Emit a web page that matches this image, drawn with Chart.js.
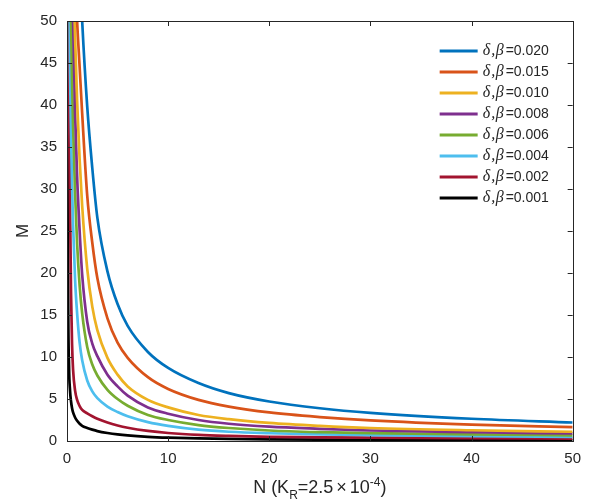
<!DOCTYPE html>
<html>
<head>
<meta charset="utf-8">
<script src="https://cdn.jsdelivr.net/npm/chart.js@4.4.0/dist/chart.umd.min.js"></script>
<style>
  html, body { margin: 0; padding: 0; background: #fff; }
</style>
</head>
<body>
<canvas id="chart" width="590" height="500"></canvas>
<script>
// N grid (x) and M values (y), one array per delta,beta
var nValues = [0.05, 0.1, 0.2, 0.3, 0.4, 0.5, 0.6, 0.8, 1, 1.25, 1.5, 2, 2.5, 3, 4, 5, 6, 8, 10, 13, 16, 20, 25, 30, 40, 50];

var m020 = [null, null, null, null, null, null, null, null, 64, 56.8, 50, 39.8, 32.5, 26.6, 20.2, 16.3, 13.7, 10.6, 8.7, 6.9, 5.7, 4.7, 3.9, 3.35, 2.65, 2.2];
var m015 = [null, null, null, null, null, null, null, 56, 50, 44.5, 39, 29.2, 23.6, 19.4, 14.6, 11.7, 9.9, 7.6, 6.2, 4.9, 4.1, 3.4, 2.85, 2.45, 1.95, 1.65];
var m010 = [null, null, null, null, null, null, 57, 48, 40.5, 33.5, 28, 20.5, 16, 13.2, 9.9, 7.9, 6.5, 4.9, 4.0, 3.1, 2.6, 2.15, 1.8, 1.55, 1.28, 1.1];
var m008 = [null, null, null, null, 64, 57, 50, 39, 31.5, 25, 19.8, 14.2, 11.6, 10.1, 7.9, 6.5, 5.4, 4.0, 3.25, 2.5, 2.05, 1.7, 1.45, 1.25, 1.05, 0.9];
var m006 = [null, null, null, 60, 50, 43, 37.5, 29.5, 23.5, 18.5, 15.2, 11.2, 9.1, 7.8, 6.1, 5.0, 4.2, 3.1, 2.5, 1.9, 1.55, 1.25, 1.05, 0.93, 0.78, 0.68];
var m004 = [null, null, 60, 44, 36.5, 30.5, 25.8, 19.2, 15.2, 11.7, 9.6, 7.2, 5.9, 5.1, 4.1, 3.45, 2.95, 2.25, 1.8, 1.35, 1.1, 0.92, 0.78, 0.7, 0.58, 0.5];
var m002 = [null, 58, 41, 28.5, 17.5, 11.5, 8.5, 6.0, 4.9, 4.15, 3.7, 3.3, 2.95, 2.65, 2.2, 1.85, 1.58, 1.2, 0.95, 0.72, 0.6, 0.5, 0.44, 0.39, 0.33, 0.29];
var m001 = [60, 22, 9, 6.0, 4.7, 3.9, 3.4, 2.8, 2.4, 2.05, 1.8, 1.55, 1.35, 1.18, 0.95, 0.78, 0.66, 0.5, 0.4, 0.31, 0.25, 0.2, 0.16, 0.14, 0.11, 0.09];

var seriesValues = [m020, m015, m010, m008, m006, m004, m002, m001];
var seriesLabels = ['0.020', '0.015', '0.010', '0.008', '0.006', '0.004', '0.002', '0.001'];
var seriesColors = ['#0072BD', '#D95319', '#EDB120', '#7E2F8E', '#77AC30', '#4DBEEE', '#A2142F', '#000000'];

var xTicks = [0, 10, 20, 30, 40, 50];
var yTicks = [0, 5, 10, 15, 20, 25, 30, 35, 40, 45, 50];

var axisColor = '#262626';
var sans = 'Arial, "Liberation Sans", sans-serif';
var serif = '"Liberation Serif", "Times New Roman", serif';

var datasets = seriesValues.map(function (vals, k) {
  var pts = [];
  nValues.forEach(function (n, i) {
    if (vals[i] !== null) pts.push({ x: n, y: vals[i] });
  });
  return {
    label: '\u03b4,\u03b2=' + seriesLabels[k],
    data: pts,
    borderColor: seriesColors[k],
    borderWidth: 2.7,
    pointRadius: 0,
    fill: false,
    cubicInterpolationMode: 'monotone'
  };
});

// box, inward ticks, axis titles and legend drawn on the canvas
var decorations = {
  id: 'decorations',
  afterDatasetsDraw: function (chart) {
    var ctx = chart.ctx, a = chart.chartArea;
    var xs = chart.scales.x, ys = chart.scales.y;
    ctx.save();
    ctx.strokeStyle = axisColor;
    ctx.lineWidth = 1;
    ctx.strokeRect(Math.round(a.left) + 0.5, Math.round(a.top) + 0.5,
      Math.round(a.right - a.left), Math.round(a.bottom - a.top));
    var tl = 5;
    ctx.beginPath();
    xTicks.forEach(function (v) {
      var px = Math.round(xs.getPixelForValue(v)) + 0.5;
      ctx.moveTo(px, a.bottom); ctx.lineTo(px, a.bottom - tl);
      ctx.moveTo(px, a.top); ctx.lineTo(px, a.top + tl);
    });
    yTicks.forEach(function (v) {
      var py = Math.round(ys.getPixelForValue(v)) + 0.5;
      ctx.moveTo(a.left, py); ctx.lineTo(a.left + tl, py);
      ctx.moveTo(a.right, py); ctx.lineTo(a.right - tl, py);
    });
    ctx.stroke();

    // y title
    ctx.fillStyle = axisColor;
    ctx.font = '17px ' + sans;
    ctx.textAlign = 'center';
    ctx.textBaseline = 'middle';
    ctx.save();
    ctx.translate(23, (a.top + a.bottom) / 2);
    ctx.rotate(-Math.PI / 2);
    ctx.fillText('M', 0, 0);
    ctx.restore();

    // x title with subscript and superscript
    var parts = [
      { t: 'N (K', f: 18, dy: 0 },
      { t: 'R', f: 12, dy: 6 },
      { t: '=2.5', f: 18, dy: 0 },
      { t: '\u00d7', f: 18, dy: 0, pad: 3 },
      { t: '10', f: 18, dy: 0 },
      { t: '-4', f: 12, dy: -7 },
      { t: ')', f: 18, dy: 0 }
    ];
    ctx.textAlign = 'left';
    ctx.textBaseline = 'alphabetic';
    var total = 0;
    parts.forEach(function (p) {
      ctx.font = p.f + 'px ' + sans;
      p.w = ctx.measureText(p.t).width + 2 * (p.pad || 0);
      total += p.w;
    });
    var x = (a.left + a.right) / 2 - total / 2, base = 493;
    parts.forEach(function (p) {
      ctx.font = p.f + 'px ' + sans;
      ctx.fillText(p.t, x + (p.pad || 0), base + p.dy);
      x += p.w;
    });

    // legend
    var lx0 = a.right - 133, lx1 = a.right - 95, tx = a.right - 90;
    chart.data.datasets.forEach(function (ds, i) {
      var y = a.top + 30 + i * 21;
      ctx.strokeStyle = ds.borderColor;
      ctx.lineWidth = 3;
      ctx.beginPath();
      ctx.moveTo(lx0, y); ctx.lineTo(lx1, y);
      ctx.stroke();
      ctx.fillStyle = axisColor;
      ctx.textBaseline = 'middle';
      ctx.font = 'italic 16px ' + serif;
      ctx.fillText('\u03b4', tx, y);
      ctx.fillText(',', tx + 8.5, y);
      ctx.fillText('\u03b2', tx + 13, y);
      ctx.font = '14px ' + sans;
      ctx.fillText('=' + seriesLabels[i], tx + 23, y);
    });
    ctx.restore();
  }
};

new Chart(document.getElementById('chart'), {
  type: 'line',
  data: { datasets: datasets },
  options: {
    responsive: false,
    devicePixelRatio: 1,
    animation: false,
    layout: { padding: { left: 0, right: 15, top: 21, bottom: 0 } },
    plugins: { legend: { display: false }, tooltip: { enabled: false } },
    scales: {
      x: {
        type: 'linear', min: 0, max: 50,
        afterFit: function (s) { s.height = 59; },
        afterBuildTicks: function (s) { s.ticks = xTicks.map(function (v) { return { value: v }; }); },
        grid: { display: false, drawTicks: false },
        border: { display: false },
        ticks: { color: axisColor, padding: 9, maxRotation: 0, font: { size: 15, family: sans } }
      },
      y: {
        type: 'linear', min: 0, max: 50,
        afterFit: function (s) { s.width = 67; },
        afterBuildTicks: function (s) { s.ticks = yTicks.map(function (v) { return { value: v }; }); },
        grid: { display: false, drawTicks: false },
        border: { display: false },
        ticks: { color: axisColor, padding: 10, font: { size: 15, family: sans } }
      }
    }
  },
  plugins: [decorations]
});
</script>
</body>
</html>
